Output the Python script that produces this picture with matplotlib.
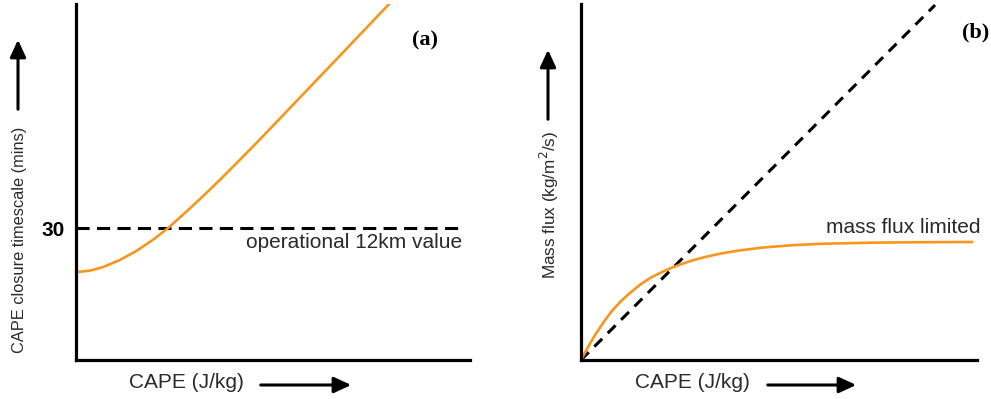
import matplotlib
matplotlib.use("Agg")
import matplotlib.pyplot as plt

# (a) closure timescale vs CAPE (arbitrary CAPE units 0-100)
left_cape = [0, 3.55, 6.85, 11.17, 15.48, 19.54, 23.35, 28.17, 32.23, 36.55,
             40.86, 45.18, 49.24, 53.55, 57.61, 61.93, 66.24, 70.56, 74.62,
             79.19, 80.2]
left_tau = [20.0, 20.32, 21.14, 22.77, 24.89, 27.36, 30.0, 33.89, 37.27, 41.02,
            44.89, 48.82, 52.59, 56.64, 60.45, 64.5, 68.55, 72.61, 76.43,
            80.73, 81.7]
oper_value = 30
oper_span = [0, 98]

# (b) mass flux vs CAPE
right_cape = [0, 1.77, 3.54, 5.56, 7.58, 10.1, 12.63, 15.15, 17.68, 20.2, 22.73,
              25.25, 28.28, 31.31, 35.35, 39.9, 45.45, 52.53, 60.61, 72.98,
              85.86, 98.74]
right_flux = [0, 3.65, 7.02, 10.39, 13.48, 16.57, 19.1, 21.35, 23.17, 24.58,
              25.84, 26.91, 28.03, 28.93, 29.92, 30.76, 31.54, 32.19, 32.64,
              32.95, 33.09, 33.15]
linear_cape = [0, 89.4]
linear_flux = [0, 99.7]

ORANGE = "#f8961c"
TEXT = "#2a2a2a"
W, H = 991, 399

fig = plt.figure(figsize=(W / 100, H / 100), dpi=100)


def add_axes(x0, x1, y_top, y_bot):
    ax = fig.add_axes([x0 / W, (H - y_bot) / H, (x1 - x0) / W, (y_bot - y_top) / H])
    for s in ["top", "right"]:
        ax.spines[s].set_visible(False)
    for s in ["left", "bottom"]:
        ax.spines[s].set_linewidth(2.3)
        ax.spines[s].set_capstyle("projecting")
    ax.set_xticks([])
    ax.set_yticks([])
    return ax


def arrow(tail, tip):
    fig.add_artist(matplotlib.patches.FancyArrowPatch(
        (tail[0], H - tail[1]), (tip[0], H - tip[1]),
        transform=None, arrowstyle="-|>,head_length=0.65,head_width=0.3",
        mutation_scale=16, lw=2.2, color="black"))


def ftext(x, y, s, **kw):
    fig.text(x / W, (H - y) / H, s, ha="center", va="center", **kw)


# Panel (a)
ax1 = add_axes(76, 470, 4, 360)
ax1.set_xlim(0, 100)
ax1.set_ylim(0, 81)
ax1.plot(oper_span, [oper_value, oper_value], color="black", lw=2.2,
         linestyle=(0, (4.3, 2.4)))
ax1.plot(left_cape, left_tau, color=ORANGE, lw=1.9)
ax1.set_yticks([oper_value])
ax1.set_yticklabels(["30"], fontsize=15, fontweight="bold", family="Liberation Sans")
ax1.tick_params(axis="y", length=0, pad=8)
ax1.text(98, oper_value - 3.3, "operational 12km value", ha="right", va="center",
         fontsize=15, color=TEXT, family="Liberation Sans")
ftext(425, 40, "(a)", fontsize=16, fontweight="bold", family="Liberation Serif")

# Panel (b)
ax2 = add_axes(581, 977, 4, 360)
ax2.set_xlim(0, 100)
ax2.set_ylim(0, 100)
ax2.plot(linear_cape, linear_flux, color="black", lw=2.2, linestyle=(0, (3.6, 2.6)))
ax2.plot(right_cape, right_flux, color=ORANGE, lw=1.9)
ax2.text(101, 37.1, "mass flux limited", ha="right", va="center",
         fontsize=15, color=TEXT, family="Liberation Sans", clip_on=False)
ftext(976, 32, "(b)", fontsize=16, fontweight="bold", family="Liberation Serif")

# axis labels and direction arrows
ftext(20, 240, "CAPE closure timescale (mins)", rotation=90, fontsize=11.8,
      color=TEXT, family="Liberation Sans")
arrow((18, 112), (18, 37))
ftext(549, 205, "Mass flux (kg/m$^2$/s)", rotation=90, fontsize=12.3,
      color=TEXT, family="Liberation Sans")
arrow((548, 122), (548, 47))

ftext(186, 383, "CAPE (J/kg)", fontsize=15, color=TEXT, family="Liberation Sans")
arrow((258, 385), (354, 385))
ftext(692, 383, "CAPE (J/kg)", fontsize=15, color=TEXT, family="Liberation Sans")
arrow((765, 385), (859, 385))

fig.savefig("out.png", dpi=100)
